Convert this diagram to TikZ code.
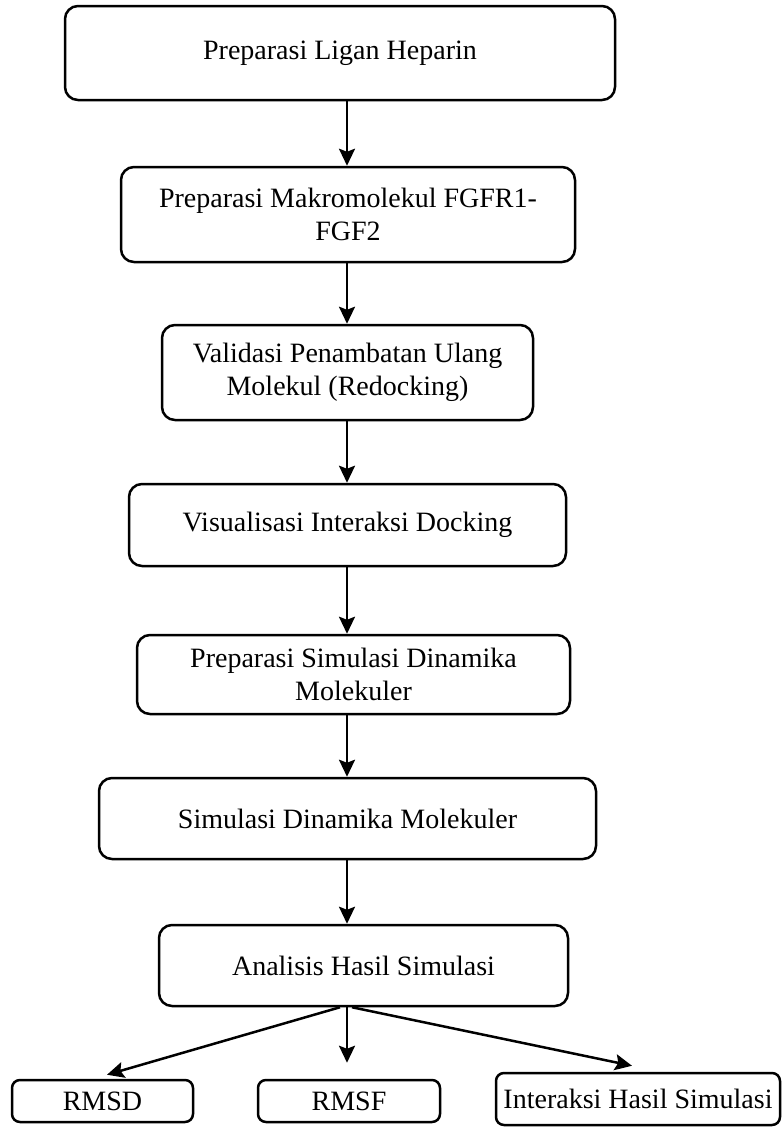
\documentclass[tikz,border=0pt]{standalone}
\usepackage{fontspec}
\setmainfont{Liberation Serif}
\usetikzlibrary{arrows.meta}
\begin{document}
\begin{tikzpicture}[x=1pt,y=-1pt,
  box/.style={draw=black, line width=2.5pt, rounded corners=13pt, inner sep=0pt,
    align=center, font=\fontsize{28}{33}\selectfont},
  arr/.style={line width=2.5pt, -{Stealth[length=17pt,width=16pt,inset=3pt]}}]
\useasboundingbox[fill=white] (0,0) rectangle (782,1128);
\node[box, minimum width=550pt, minimum height=94pt] (b1) at (340,53) {Preparasi Ligan Heparin};
\node[box, minimum width=454pt, minimum height=95pt] (b2) at (348,214.5) {Preparasi Makromolekul FGFR1-\\FGF2};
\node[box, minimum width=371pt, minimum height=95pt] (b3) at (347.5,372.5) {Validasi Penambatan Ulang\\Molekul (Redocking)};
\node[box, minimum width=437pt, minimum height=82pt] (b4) at (347.5,525) {Visualisasi Interaksi Docking};
\node[box, minimum width=433pt, minimum height=79pt] (b5) at (353.5,674.5) {Preparasi Simulasi Dinamika\\Molekuler};
\node[box, minimum width=497pt, minimum height=81pt] (b6) at (347.5,818.5) {Simulasi Dinamika Molekuler};
\node[box, minimum width=409pt, minimum height=81pt] (b7) at (363.5,965.5) {Analisis Hasil Simulasi};
\node[box, rounded corners=8pt, minimum width=181pt, minimum height=42pt] (rmsd) at (102.5,1101) {RMSD};
\node[box, rounded corners=8pt, minimum width=182pt, minimum height=42pt] (rmsf) at (349,1101) {RMSF};
\node[box, rounded corners=8pt, minimum width=284pt, minimum height=52pt] (inter) at (638,1099) {Interaksi Hasil Simulasi};
\coordinate (ax) at (347,0);
\coordinate (al) at (340,0);
\coordinate (ar) at (352,0);
\coordinate (tl) at (107,0);
\coordinate (tr) at (632,0);
\draw[arr] (b1.south -| ax) -- (b2.north -| ax);
\draw[arr] (b2.south -| ax) -- (b3.north -| ax);
\draw[arr] (b3.south -| ax) -- (b4.north -| ax);
\draw[arr] (b4.south -| ax) -- (b5.north -| ax);
\draw[arr] (b5.south -| ax) -- (b6.north -| ax);
\draw[arr] (b6.south -| ax) -- (b7.north -| ax);
\draw[arr] (b7.south -| al) -- ([yshift=4pt]rmsd.north -| tl);
\draw[arr] (b7.south -| ax) -- ([yshift=16pt]rmsf.north -| ax);
\draw[arr] (b7.south -| ar) -- ([yshift=6pt]inter.north -| tr);
\end{tikzpicture}
\end{document}
